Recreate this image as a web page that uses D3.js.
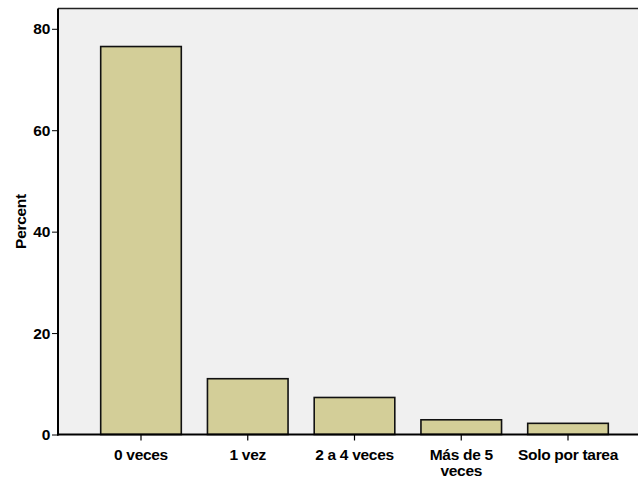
<!DOCTYPE html>
<html>
<head>
<meta charset="utf-8">
<script src="https://cdn.jsdelivr.net/npm/d3@7"></script>
<style>
  html, body { margin: 0; padding: 0; background: #ffffff; }
  svg text { font-family: "Liberation Sans", Arial, sans-serif; font-weight: bold; fill: #000; letter-spacing: -0.3px; }
</style>
</head>
<body>
<svg id="chart" width="638" height="481"></svg>
<script>
const categories = [["0 veces"], ["1 vez"], ["2 a 4 veces"], ["Más de 5", "veces"], ["Solo por tarea"]];
const categoryKeys = ["0 veces", "1 vez", "2 a 4 veces", "Más de 5 veces", "Solo por tarea"];
const percentValues = [76.5, 11.0, 7.3, 2.9, 2.2];
const yTicks = [0, 20, 40, 60, 80];
const yAxisTitle = "Percent";

const svg = d3.select("#chart");
const mLeft = 58, mTop = 8.5, mBottom = 434.5, mRight = 651;
const fontSize = "15.5px";

const x = d3.scaleBand().domain(categoryKeys).range([mLeft, mRight]).paddingInner(0.245).paddingOuter(0.40);
const y = d3.scaleLinear().domain([0, 84]).range([mBottom, mTop]);

// plot background
svg.append("rect").attr("x", mLeft).attr("y", mTop).attr("width", mRight - mLeft).attr("height", mBottom - mTop)
  .attr("fill", "#f0f0f0");
// top frame line
svg.append("line").attr("x1", mLeft).attr("x2", mRight).attr("y1", mTop).attr("y2", mTop)
  .attr("stroke", "#222").attr("stroke-width", 1.5);

// bars
svg.selectAll("rect.bar").data(percentValues).enter().append("rect")
  .attr("class", "bar")
  .attr("x", (d, i) => x(categoryKeys[i]))
  .attr("y", d => y(d))
  .attr("width", x.bandwidth())
  .attr("height", d => mBottom - y(d))
  .attr("fill", "#d3ce98")
  .attr("stroke", "#111")
  .attr("stroke-width", 1.6);

// y axis
const yAxis = d3.axisLeft(y).tickValues(yTicks).tickSize(6).tickPadding(2).tickFormat(d3.format("d"));
const gy = svg.append("g").attr("transform", `translate(${mLeft},0)`).call(yAxis);
gy.select(".domain").remove();
gy.selectAll(".tick line").attr("stroke", "#000").attr("stroke-width", 1);
gy.selectAll(".tick text").style("font-size", fontSize).style("font-family", "'Liberation Sans', Arial, sans-serif").style("font-weight", "bold");
svg.append("line").attr("x1", mLeft).attr("x2", mLeft).attr("y1", mTop).attr("y2", mBottom + 1)
  .attr("stroke", "#000").attr("stroke-width", 2);

// x axis
const xAxis = d3.axisBottom(x).tickSize(6).tickFormat(() => "");
const gx = svg.append("g").attr("transform", `translate(0,${mBottom})`).call(xAxis);
gx.select(".domain").remove();
gx.selectAll(".tick line").attr("stroke", "#000").attr("stroke-width", 1.2);
svg.append("line").attr("x1", mLeft - 1).attr("x2", mRight).attr("y1", mBottom).attr("y2", mBottom)
  .attr("stroke", "#000").attr("stroke-width", 2);

// x labels (multi-line)
const lbl = svg.append("g").selectAll("text").data(categories).enter().append("text")
  .attr("text-anchor", "middle")
  .attr("x", (d, i) => x(categoryKeys[i]) + x.bandwidth() / 2)
  .attr("y", 460)
  .style("font-size", fontSize);
lbl.each(function(lines) {
  const t = d3.select(this);
  lines.forEach((ln, j) => {
    t.append("tspan").attr("x", t.attr("x")).attr("dy", j === 0 ? 0 : 15.5).text(ln);
  });
});

// y axis title
svg.append("text")
  .attr("transform", `translate(26,${(mTop + mBottom) / 2}) rotate(-90)`)
  .attr("text-anchor", "middle")
  .style("font-size", fontSize)
  .text(yAxisTitle);
</script>
</body>
</html>
